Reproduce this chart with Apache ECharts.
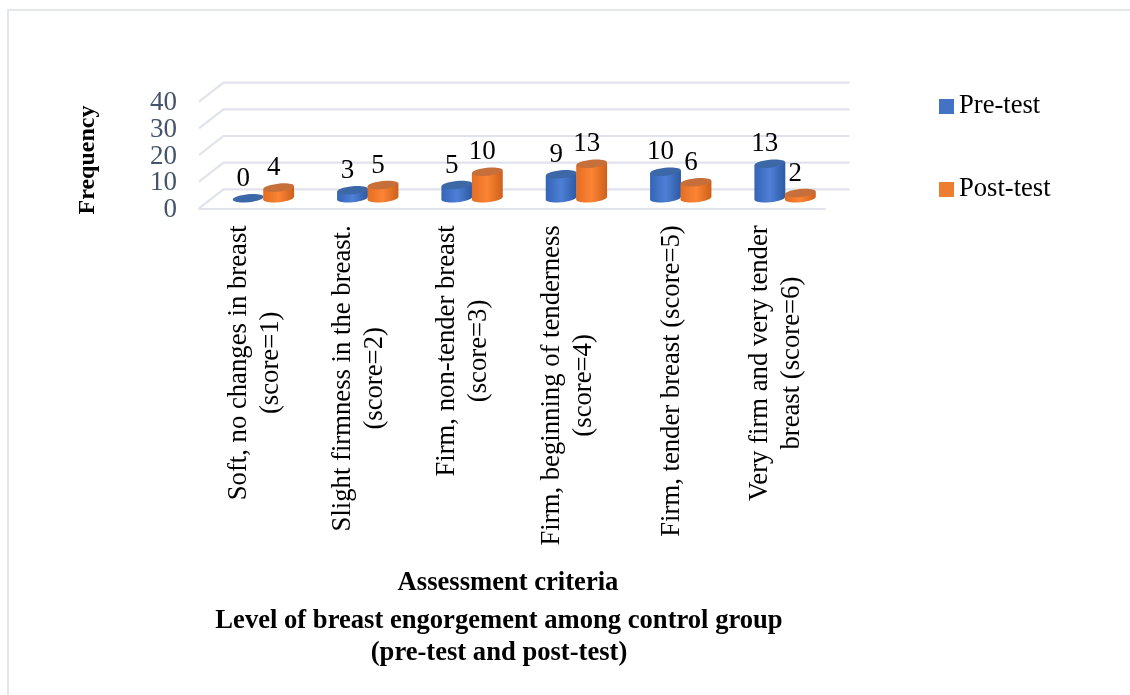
<!DOCTYPE html>
<html>
<head>
<meta charset="utf-8">
<style>
  html, body { margin: 0; padding: 0; background: #fff; }
  #main { width: 1130px; height: 695px; }
</style>
<script src="https://cdn.jsdelivr.net/npm/echarts@6/dist/echarts.min.js"></script>
</head>
<body>
<div id="main"></div>
<script>
var categories = [
  'Soft, no changes in breast\n(score=1)',
  'Slight firmness in the breast.\n(score=2)',
  'Firm, non-tender breast\n(score=3)',
  'Firm, beginning of tenderness\n(score=4)',
  'Firm, tender breast (score=5)',
  'Very firm and very tender\nbreast (score=6)'
];
var preTest = [0, 3, 5, 9, 10, 13];
var postTest = [4, 5, 10, 13, 6, 2];
var yTicks = [0, 10, 20, 30, 40];

var serif = '"Liberation Serif", "Times New Roman", serif';
// depth of the fake 3d floor, px
var depthX = 24.5, depthY = 19;

function hGrad(edgeL, mid, edgeR) {
  return new echarts.graphic.LinearGradient(0, 0, 1, 0, [
    { offset: 0, color: edgeL },
    { offset: 0.5, color: mid },
    { offset: 1, color: edgeR }
  ]);
}

var colors = {
  pre: { side: hGrad('#3464b6', '#4f80d6', '#2c59a3'), top: '#3d68a8', legend: '#4472c4' },
  post: { side: hGrad('#e36d22', '#fb8435', '#cd6019'), top: '#c76f3b', legend: '#ed7d31' }
};

function cylinder(c, dir) {
  return function (params, api) {
    var val = api.value(1);
    var band = api.size([1, 0])[0];
    var off = band * 0.146 * dir;
    var p0 = api.coord([api.value(0), 0]);
    var p1 = api.coord([api.value(0), val]);
    var cx = p0[0] + depthX / 2 + off;
    var yBase = p0[1] - 10;
    var yTop = p1[1] - 10;
    var rx = band * 0.148, ry = 4, tilt = 1.5;
    var kids = [];
    if (val > 0) {
      kids.push({
        type: 'ellipse', rotation: 0.1, originX: cx, originY: yBase,
        shape: { cx: cx, cy: yBase, rx: rx, ry: ry },
        style: { fill: c.side }
      });
      kids.push({
        type: 'polygon',
        shape: { points: [[cx - rx, yTop + tilt], [cx + rx, yTop - tilt], [cx + rx, yBase - tilt], [cx - rx, yBase + tilt]] },
        style: { fill: c.side }
      });
    }
    kids.push({
      type: 'ellipse', rotation: 0.1, originX: cx, originY: yTop,
      shape: { cx: cx, cy: yTop, rx: rx, ry: ry },
      style: { fill: c.top }
    });
    kids.push({
      type: 'text',
      style: {
        x: cx - 5, y: yTop - 19.5, text: String(val), fill: '#000',
        font: '27px ' + serif, align: 'center', verticalAlign: 'middle'
      }
    });
    return { type: 'group', children: kids };
  };
}

// wall line plus its tick label, the axis hides every other label at this font size
function wallLine(params, api) {
  var v = api.value(0);
  var band = api.size([1, 0])[0];
  var a = api.coord([0, v]);
  var b = api.coord([categories.length - 1, v]);
  var x0 = a[0] - band / 2, x1 = b[0] + band / 2, y = a[1];
  return {
    type: 'group',
    children: [
      {
        type: 'polyline',
        shape: { points: [[x0, y], [x0 + depthX, y - depthY], [x1 + depthX, y - depthY]] },
        style: { stroke: '#e0e3ea', lineWidth: 2.2, fill: null }
      },
      {
        type: 'text',
        style: {
          x: x0 - 22, y: y + 1.5, text: String(v), fill: '#44546a',
          font: '27px ' + serif, align: 'right', verticalAlign: 'middle'
        }
      }
    ]
  };
}

function boldText(str, x, y) {
  return {
    type: 'text', silent: true, x: x, y: y,
    style: {
      text: str, fill: '#000', align: 'center', verticalAlign: 'middle',
      font: 'bold 26.6px ' + serif
    }
  };
}

var chart = echarts.init(document.getElementById('main'));
chart.setOption({
  animation: false,
  backgroundColor: '#fff',
  textStyle: { fontFamily: serif },
  graphic: [
    // outer frame of the figure
    { type: 'polyline', silent: true, shape: { points: [[8, 695], [8, 10], [1130, 10]] }, style: { stroke: '#e4e7ea', lineWidth: 2, fill: null } },
    {
      type: 'text', silent: true, x: 88, y: 160, rotation: Math.PI / 2,
      style: { text: 'Frequency', fill: '#000', align: 'center', verticalAlign: 'middle', font: 'bold 24px ' + serif }
    },
    boldText('Assessment criteria', 508, 583),
    boldText('Level of breast engorgement among control group', 499, 621),
    boldText('(pre-test and post-test)', 499, 653)
  ],
  legend: {
    data: ['Pre-test', 'Post-test'],
    orient: 'vertical',
    left: 934, top: 88,
    itemWidth: 15, itemHeight: 15, itemGap: 56,
    icon: 'rect',
    textStyle: { fontFamily: serif, fontSize: 26.6, color: '#000' }
  },
  grid: { left: 199, top: 101.7, width: 626, height: 106.6 },
  xAxis: {
    type: 'category',
    data: categories,
    axisLine: { lineStyle: { color: '#e0e3ea', width: 2.2 } },
    axisTick: { show: false },
    axisLabel: {
      interval: 0, rotate: 90, margin: 17, color: '#000',
      fontFamily: serif, fontSize: 26.7, lineHeight: 32,
      padding: [7, 0, 0, 0],
      formatter: function (v) {
        return v.split('\n').map(function (s) { return '{c|' + s + '}'; }).join('\n');
      },
      rich: { c: { align: 'center', fontFamily: serif, fontSize: 26.7, lineHeight: 32, color: '#000' } }
    }
  },
  yAxis: {
    type: 'value',
    min: 0, max: 40, interval: 10,
    axisLine: { show: false },
    axisTick: { show: false },
    splitLine: { show: false },
    axisLabel: { show: false }
  },
  series: [
    { name: 'wall', type: 'custom', renderItem: wallLine, data: yTicks.map(function (v) { return [v]; }), encode: { y: 0 }, silent: true, clip: false, z: 1 },
    {
      name: 'Pre-test', type: 'custom', renderItem: cylinder(colors.pre, -1), z: 2,
      itemStyle: { color: colors.pre.legend },
      data: preTest.map(function (v, i) { return [i, v]; }), encode: { x: 0, y: 1 }
    },
    {
      name: 'Post-test', type: 'custom', renderItem: cylinder(colors.post, 1), z: 3,
      itemStyle: { color: colors.post.legend },
      data: postTest.map(function (v, i) { return [i, v]; }), encode: { x: 0, y: 1 }
    }
  ]
});
</script>
</body>
</html>
